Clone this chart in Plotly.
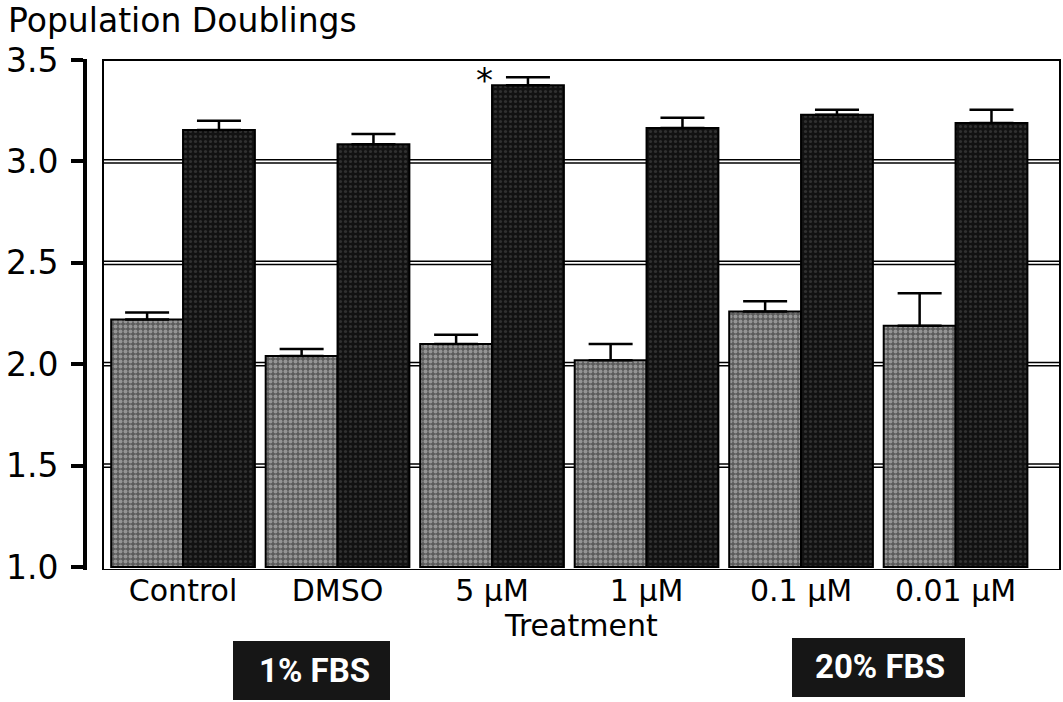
import plotly.graph_objects as go

# Treatment groups and measured population doublings (mean, upper SE)
categories = ["Control", "DMSO", "5 µM", "1 µM", "0.1 µM", "0.01 µM"]
fbs1_mean = [2.22, 2.04, 2.10, 2.02, 2.26, 2.19]
fbs1_err = [0.035, 0.035, 0.045, 0.08, 0.05, 0.16]
fbs20_mean = [3.155, 3.085, 3.375, 3.165, 3.23, 3.19]
fbs20_err = [0.045, 0.05, 0.04, 0.05, 0.025, 0.065]
y_ticks = [1.0, 1.5, 2.0, 2.5, 3.0, 3.5]
grid_levels = [1.5, 2.0, 2.5, 3.0]

FONT = "DejaVu Sans"
W, H = 1063, 702
ML, MR, MT, MB = 85, 3, 59, 132
PW = W - ML - MR
PH = H - MT - MB
Y0, Y1 = 0.985, 3.505


def px_x(px):
    return (px - ML) / PW


def px_y(py):
    return (H - MB - py) / PH


fig = go.Figure()

fig.add_trace(go.Bar(
    x=categories, y=[v - 1.0 for v in fbs1_mean], base=1.0, name="1% FBS",
    marker=dict(color="#5e5e5e", line=dict(color="black", width=2),
                pattern=dict(shape=".", bgcolor="#5a5a5a", fgcolor="#cfcfcf",
                             size=5, solidity=0.5)),
    error_y=dict(type="data", array=fbs1_err, arrayminus=[0] * len(fbs1_err),
                 symmetric=False, color="black", thickness=2.5, width=22),
))
fig.add_trace(go.Bar(
    x=categories, y=[v - 1.0 for v in fbs20_mean], base=1.0, name="20% FBS",
    marker=dict(color="#151515", line=dict(color="black", width=2),
                pattern=dict(shape=".", bgcolor="#121212", fgcolor="#505050",
                             size=5, solidity=0.3)),
    error_y=dict(type="data", array=fbs20_err, arrayminus=[0] * len(fbs20_err),
                 symmetric=False, color="black", thickness=2.5, width=22),
))

shapes = []
# double horizontal reference lines behind the bars
for g in grid_levels:
    for off in (-0.008, 0.008):
        shapes.append(dict(type="line", xref="x domain", yref="y", x0=0, x1=1,
                           y0=g + off, y1=g + off, layer="below",
                           line=dict(color="black", width=1.5)))
# plot frame
shapes.append(dict(type="rect", xref="x domain", yref="y", x0=0, x1=1,
                   y0=Y0, y1=3.5, layer="below",
                   line=dict(color="black", width=2)))
# legend boxes under the axis
shapes.append(dict(type="rect", xref="paper", yref="paper",
                   x0=px_x(233), x1=px_x(390), y0=px_y(700), y1=px_y(641),
                   fillcolor="#161616", line=dict(color="#161616", width=0)))
shapes.append(dict(type="rect", xref="paper", yref="paper",
                   x0=px_x(792), x1=px_x(965), y0=px_y(697), y1=px_y(638),
                   fillcolor="#161616", line=dict(color="#161616", width=0)))

annotations = [
    dict(text="Population Doublings", xref="paper", yref="paper",
         x=px_x(6), y=px_y(21), xanchor="left", yanchor="middle",
         showarrow=False, font=dict(family=FONT, size=33, color="black")),
    dict(text="*", xref="x", yref="y", x="5 µM", y=3.40, xshift=-8,
         xanchor="center", yanchor="middle",
         showarrow=False, font=dict(family=FONT, size=34, color="black")),
    dict(text="Treatment", xref="paper", yref="paper",
         x=px_x(581), y=px_y(625), xanchor="center", yanchor="middle",
         showarrow=False, font=dict(family=FONT, size=30, color="black")),
    dict(text="<b>1% FBS</b>", xref="paper", yref="paper",
         x=px_x(314), y=px_y(670), xanchor="center", yanchor="middle",
         showarrow=False,
         font=dict(family="Roboto", size=33, color="white")),
    dict(text="<b>20% FBS</b>", xref="paper", yref="paper",
         x=px_x(880), y=px_y(666), xanchor="center", yanchor="middle",
         showarrow=False,
         font=dict(family="Roboto", size=33, color="white")),
]

fig.update_layout(
    width=W, height=H,
    margin=dict(l=ML, r=MR, t=MT, b=MB),
    paper_bgcolor="white", plot_bgcolor="white",
    barmode="group", bargap=0.07, bargroupgap=0,
    showlegend=False,
    shapes=shapes, annotations=annotations,
    font=dict(family=FONT, color="black"),
    xaxis=dict(domain=[px_x(103), 1], range=[-0.518, 5.676],
               showline=False, showgrid=False, ticks="", zeroline=False,
               tickfont=dict(family=FONT, size=30, color="black")),
    yaxis=dict(range=[Y0, Y1], anchor="free", position=0,
               showline=True, linecolor="black", linewidth=4,
               ticks="outside", ticklen=12, tickwidth=4, tickcolor="black",
               tickvals=y_ticks, ticktext=[f"{v:.1f}" for v in y_ticks],
               ticklabelstandoff=6,
               showgrid=False, zeroline=False,
               tickfont=dict(family=FONT, size=33, color="black")),
)

fig.write_html("out.html")
